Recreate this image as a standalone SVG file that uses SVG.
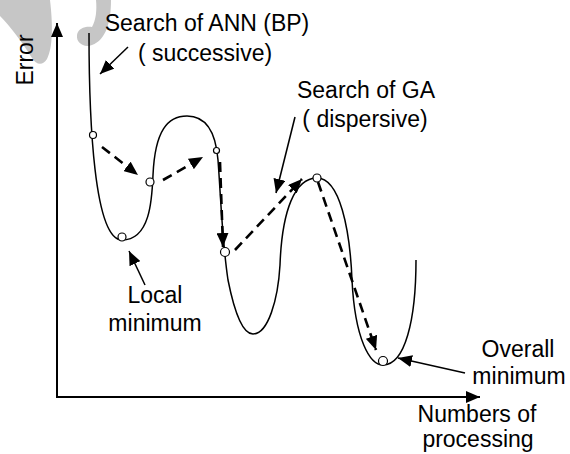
<svg xmlns="http://www.w3.org/2000/svg" width="570" height="454" viewBox="0 0 570 454">
<style>
text{font-family:"Liberation Sans",Arial,sans-serif;font-size:23px;fill:#000}
.ax{stroke:#000;stroke-width:2;fill:none}
.cv{stroke:#000;stroke-width:1.5;fill:none}
.ds{stroke:#000;stroke-width:2.6;fill:none;stroke-dasharray:10 6}
.sl{stroke:#000;stroke-width:1.5;fill:none}
.pt{fill:#fff;stroke:#000;stroke-width:1.2}
.wm{fill:#c6c6c6}
</style>
<defs>
<marker id="ah" viewBox="0 0 14 12" refX="14" refY="6" markerWidth="14" markerHeight="12" markerUnits="userSpaceOnUse" orient="auto"><path d="M0,0 L14,6 L0,12 z" fill="#000"/></marker>
<marker id="ax" viewBox="0 0 14 12" refX="14" refY="6" markerWidth="14" markerHeight="12" markerUnits="userSpaceOnUse" orient="auto"><path d="M0,0 L14,6 L0,12 z" fill="#000"/></marker>
</defs>
<g id="watermark">
<path class="wm" d="M0,0 L50,0 C53,25 53,48 47,59 C43,66 36,65 32,58 C22,42 10,26 0,16 Z"/>
<path class="wm" d="M96,0 L111,0 C111,22 106,40 92,45 C84,48 76,43 77,35 C78,28 86,26 92,27 C96,20 97,10 96,0 Z"/>
</g>
<g id="axes">
<line class="ax" x1="57" y1="397" x2="57" y2="23" marker-end="url(#ax)"/>
<line class="ax" x1="56" y1="397" x2="480" y2="397" marker-end="url(#ax)"/>
</g>
<g id="curve">
<path class="cv" d="M89,33 C89,120 94,240 122,240 C150,240 152,200 153,175 C155,130 168,116 187,116 C208,116 216,135 218,160 C221,200 222,240 228,280 C236,320 245,334 253,334 C268,334 278,300 280,265 C282,210 295,178 317,178 C340,178 350,230 352,280 C355,340 370,365 383,365 C405,365 416,320 416,260"/>
</g>
<g id="connectors">
<line class="ds" x1="102" y1="147" x2="138" y2="175" marker-end="url(#ah)"/>
<line class="ds" x1="163" y1="180" x2="203" y2="157" marker-end="url(#ah)"/>
<line class="ds" x1="220" y1="162" x2="223" y2="247" marker-end="url(#ah)"/>
<line class="ds" x1="235" y1="250" x2="302" y2="179" marker-end="url(#ah)"/>
<line class="ds" x1="318" y1="182" x2="376" y2="350" marker-end="url(#ah)"/>
<line class="sl" x1="128" y1="47" x2="100" y2="74" marker-end="url(#ah)"/>
<line class="sl" x1="295" y1="117" x2="276" y2="193" marker-end="url(#ah)"/>
<line class="sl" x1="145" y1="285" x2="129" y2="251" marker-end="url(#ah)"/>
<line class="sl" x1="465" y1="373" x2="398" y2="358" marker-end="url(#ah)"/>
</g>
<g id="points">
<circle class="pt" cx="93" cy="135" r="3.5"/>
<circle class="pt" cx="122" cy="237" r="4"/>
<circle class="pt" cx="150" cy="182" r="4"/>
<circle class="pt" cx="216.5" cy="150.5" r="3"/>
<circle class="pt" cx="225" cy="252" r="4.5"/>
<circle class="pt" cx="317" cy="178" r="4"/>
<circle class="pt" cx="383" cy="361" r="4.5"/>
</g>
<g id="labels">
<text x="207" y="31" text-anchor="middle">Search of ANN (BP)</text>
<text x="205" y="61" text-anchor="middle">( successive)</text>
<text x="366" y="98" text-anchor="middle">Search of GA</text>
<text x="365" y="127" text-anchor="middle">( dispersive)</text>
<text x="155" y="303" text-anchor="middle">Local</text>
<text x="155" y="331" text-anchor="middle">minimum</text>
<text x="518" y="357" text-anchor="middle">Overall</text>
<text x="519" y="384" text-anchor="middle">minimum</text>
<text x="477" y="422" text-anchor="middle">Numbers of</text>
<text x="478" y="447" text-anchor="middle">processing</text>
<text transform="translate(33,60) rotate(-90)" text-anchor="middle">Error</text>
</g>
</svg>
